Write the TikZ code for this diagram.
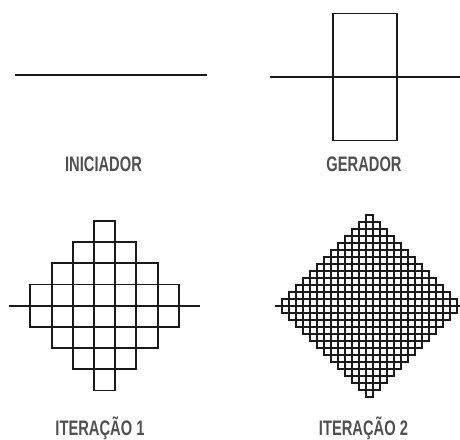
\documentclass[tikz,border=0pt]{standalone}
\usepackage{fontspec}
\newfontfamily\lblfont[FakeStretch=0.7]{Liberation Sans Bold}
\definecolor{lblgray}{HTML}{505050}
\definecolor{ink}{HTML}{1A1A1A}
\tikzset{
  lbl/.style={font=\lblfont\fontsize{21}{21}\selectfont, text=lblgray, inner sep=0pt, anchor=center},
  thinline/.style={draw=ink, line width=1.8pt},
  gridone/.style={draw=ink, line width=1.9pt},
  gridtwo/.style={draw=ink, line width=1.75pt}
}
\begin{document}
\begin{tikzpicture}[x=1pt,y=-1pt]
\useasboundingbox (0,0) rectangle (460,439);
% ---------- Initiator ----------
\coordinate (iniL) at (15,75);
\coordinate (iniR) at (207,75);
\draw[thinline] (iniL) -- (iniR);
\node[lbl] (iniLabel) at (103.5,164) {INICIADOR};
% ---------- Generator ----------
\coordinate (genL) at (270,77);
\coordinate (genR) at (460,77);
\draw[thinline] (genL) -- (genR);
\coordinate (genA) at (333,13.5);
\coordinate (genB) at (397,140.5);
\draw[thinline] (genA) rectangle (genB);
\node[lbl] (genLabel) at (364,164.5) {GERADOR};
% ---------- Iteration 1 ----------
\def\ca{104.6}\def\ya{305.7}\def\ua{21.2}
\coordinate (itaL) at ({\ca-4.5*\ua},\ya);
\coordinate (itaR) at ({\ca+4.5*\ua},\ya);
\draw[gridone] (itaL) -- (itaR);
\foreach \j in {0,...,3}{
  \pgfmathtruncatemacro\hi{3-\j}
  \pgfmathtruncatemacro\lo{\j-3}
  \foreach \i in {\lo,...,\hi}{
    \draw[gridone] ({\ca+(\i-0.5)*\ua},{\ya-(\j+1)*\ua}) rectangle ({\ca+(\i+0.5)*\ua},{\ya-\j*\ua});
    \draw[gridone] ({\ca+(\i-0.5)*\ua},{\ya+\j*\ua}) rectangle ({\ca+(\i+0.5)*\ua},{\ya+(\j+1)*\ua});
  }
}
\node[lbl] (itaLabel) at (100,428) {ITERAÇÃO 1};
% ---------- Iteration 2 ----------
\def\cb{369.5}\def\yb{306}\def\ub{7}
\coordinate (itbL) at ({\cb-13.5*\ub},\yb);
\coordinate (itbR) at (460,\yb);
\draw[gridtwo] (itbL) -- (itbR);
\foreach \j in {0,...,12}{
  \pgfmathtruncatemacro\hi{12-\j}
  \pgfmathtruncatemacro\lo{\j-12}
  \foreach \i in {\lo,...,\hi}{
    \draw[gridtwo] ({\cb+(\i-0.5)*\ub},{\yb-(\j+1)*\ub}) rectangle ({\cb+(\i+0.5)*\ub},{\yb-\j*\ub});
    \draw[gridtwo] ({\cb+(\i-0.5)*\ub},{\yb+\j*\ub}) rectangle ({\cb+(\i+0.5)*\ub},{\yb+(\j+1)*\ub});
  }
}
\node[lbl] (itbLabel) at (363.5,428) {ITERAÇÃO 2};
\end{tikzpicture}
\end{document}
